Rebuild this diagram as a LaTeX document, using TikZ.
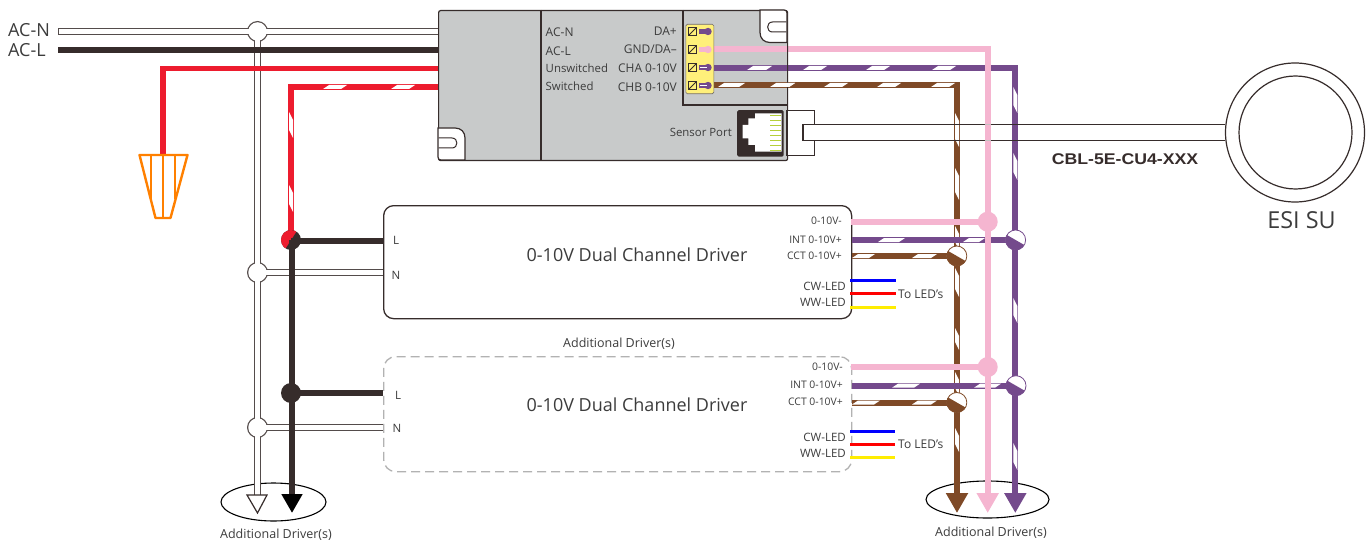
\documentclass[tikz,border=0pt]{standalone}
\usepackage{graphicx}
\usepackage{fontspec}
\setmainfont{Open Sans}
\newfontfamily\boldarial{Liberation Sans}[BoldFont={Liberation Sans Bold}]
\usetikzlibrary{arrows.meta,shapes.geometric}
\definecolor{blackw}{HTML}{362C2B}
\definecolor{redw}{HTML}{ED1C2E}
\definecolor{pinkw}{HTML}{F5B5D0}
\definecolor{purplew}{HTML}{744A8C}
\definecolor{brownw}{HTML}{7F4A27}
\definecolor{boxgrey}{HTML}{C8CACA}
\definecolor{termyellow}{HTML}{FFF07A}
\definecolor{txt}{HTML}{3C3C3C}
\definecolor{orangew}{HTML}{FF8000}
\definecolor{pinc}{HTML}{B5CF3B}
\newcommand\hst[3]{\fill[white] (#2,#1+2)--(#2+6,#1-2)--(#3,#1-2)--(#3-6,#1+2)--cycle;}
\newcommand\vst[3]{\fill[white] (#1-2,#2)--(#1+2,#2+8)--(#1+2,#3)--(#1-2,#3-8)--cycle;}
\newcommand\halfj[2]{\begin{scope}[shift={(#1.center)}]\clip (0,0) circle[radius=10pt];\fill[#2] (-20,-11.5)--(20,11.5)--(20,20)--(-20,20)--cycle;\end{scope}}
\tikzset{
 wire/.style={line width=6pt,line join=miter,line cap=butt},
 nout/.style={line width=6.6pt,draw=blackw!85},
 nin/.style={line width=4.4pt,draw=white},
 thinw/.style={line width=3pt},
 lbl/.style={inner sep=0pt,text=txt,font=\fontsize{12}{12}\selectfont},
 lbs/.style={inner sep=0pt,text=txt,font=\fontsize{11.4}{12}\selectfont},
 sm/.style={inner sep=0pt,text=txt,font=\fontsize{10.4}{10}\selectfont},
 ledl/.style={inner sep=0pt,text=txt,font=\fontsize{11.5}{10}\selectfont},
 term/.style={inner sep=0pt,text=txt,font=\fontsize{11.5}{10}\selectfont},
 addl/.style={inner sep=0pt,text=txt,font=\fontsize{12.5}{11}\selectfont},
 titl/.style={inner sep=0pt,text=txt,font=\fontsize{18}{17}\selectfont},
 acl/.style={inner sep=0pt,text=txt,anchor=west,font=\fontsize{18}{15}\selectfont},
 dotj/.style={circle,minimum size=20pt,inner sep=0pt,fill=#1},
 halfnode/.style={circle,minimum size=20pt,inner sep=0pt,fill=white,draw=#1,line width=.8pt},
 nj/.style={circle,minimum size=20pt,inner sep=0pt},
 drv/.style={rectangle,rounded corners=10pt,anchor=north west,inner sep=0pt,line width=1.3pt,draw=blackw},
 drvd/.style={rectangle,rounded corners=12pt,anchor=north west,inner sep=0pt,line width=1.3pt,draw=black!30,dash pattern=on 9pt off 5pt},
 screw/.style={rectangle,draw=blackw,line width=1pt,minimum size=8pt,inner sep=0pt,path picture={\draw[blackw,line width=1pt](path picture bounding box.south west)--(path picture bounding box.north east);}},
}
\begin{document}
\begin{tikzpicture}[x=1pt,y=-1pt]
\useasboundingbox (0,0) rectangle (1372,540);
\fill[white] (0,0) rectangle (1372,540);
% named points
\coordinate (nstart) at (58,31.5);
\coordinate (lstart) at (58,50);
\coordinate (nboxin) at (438,31.5);
\coordinate (lboxin) at (438,50);
\coordinate (uboxin) at (438,68.5);
\coordinate (sboxin) at (438,87);
\coordinate (ubend) at (163,68.5);
\coordinate (sbend) at (290.5,87);
\coordinate (cap) at (163,155);
\coordinate (ntip) at (257.5,496);
\coordinate (ltip) at (292,513);
\coordinate (nd1) at (383,272.5);
\coordinate (nd2) at (383,427.5);
\coordinate (ld1) at (383,241);
\coordinate (ld2) at (383,393);
\coordinate (pink0) at (713,49);
\coordinate (pinkc) at (987.7,49);
\coordinate (pinkt) at (987.7,513);
\coordinate (pur0) at (713,68);
\coordinate (purc) at (1015.3,68);
\coordinate (purt) at (1015.3,513);
\coordinate (bro0) at (713,85.5);
\coordinate (broc) at (957,85.5);
\coordinate (brot) at (957,513);
\coordinate (cabt) at (803,124.5);
\coordinate (cabb) at (803,140.5);
% ellipses
\node[draw=black,line width=1.1pt,ellipse,minimum width=105pt,minimum height=38pt,inner sep=0pt] (e1) at (273.5,502) {};
\node[draw=black,line width=1.1pt,ellipse,minimum width=123pt,minimum height=37pt,inner sep=0pt] (e2) at (987.5,499.5) {};
% sensor
\node[circle,draw=blackw,line width=1.2pt,fill=white,minimum size=139pt,inner sep=0pt] (su) at (1295,132.5) {};
\node[circle,draw=blackw,line width=1.2pt,minimum size=113pt,inner sep=0pt] (sui) at (1295.5,132.5) {};
% drivers
\node[drv,minimum width=468pt,minimum height=113pt] (d1) at (383,205) {};
\node[drvd,minimum width=468pt,minimum height=115pt] (d2) at (383,356) {};
% neutral network
\node[nj,fill=blackw!85,minimum size=21pt] (jn0) at (257.5,31.5) {};
\node[nj,fill=blackw!85,minimum size=21pt] (jn1) at (257.5,272.5) {};
\node[nj,fill=blackw!85,minimum size=21pt] (jn2) at (257.5,427.5) {};
\draw[nout] (nstart)--(nboxin);
\draw[nout] (jn0.center)--(ntip);
\draw[nout] (jn1.center)--(nd1);
\draw[nout] (jn2.center)--(nd2);
\node[nj,fill=white,minimum size=18.5pt] (jn0w) at (jn0) {};
\node[nj,fill=white,minimum size=18.5pt] (jn1w) at (jn1) {};
\node[nj,fill=white,minimum size=18.5pt] (jn2w) at (jn2) {};
\draw[nin] ([xshift=.8pt]nstart)--(nboxin);
\draw[nin] (jn0.center)--(ntip);
\draw[nin] (jn1.center)--(nd1);
\draw[nin] (jn2.center)--(nd2);
\draw[blackw,line width=1.2pt,fill=white] (247,495)--(267,495)--(257.5,513)--cycle;
% line
\draw[wire,blackw] (lstart)--(lboxin);
% switched / unswitched
\draw[wire,redw,line width=5.6pt] (uboxin)--(ubend)--(cap);
\draw[wire,redw] (sboxin)--(sbend)--(290.5,239);
\hst{87}{323}{347}\hst{87}{391}{415}
\vst{291}{112}{138}\vst{291}{185}{212}
\node[dotj=blackw] (jl1) at (291,240) {};
\begin{scope}\clip (jl1.center) circle[radius=10pt];
\fill[redw] (271,271)--(311,209)--(271,209)--cycle;\end{scope}
\node[dotj=blackw] (jl2) at (291,393) {};
\draw[wire,blackw] (jl1.center |- ld1)--(ld1);
\draw[wire,blackw] (jl2.center)--(ld2);
\draw[wire,blackw,line width=6.4pt,-{Triangle[width=20pt,length=19pt,color=black]}] (ltip |- jl1.center)--(ltip);
% wire nut
\draw[orangew,line width=2.4pt,line join=round] (139.5,155)--(187.5,155)--(170.5,218)--(155.5,218)--cycle;
\draw[orangew,line width=2.4pt] (151,155)--(151,199);
\draw[orangew,line width=2.4pt] (163,155)--(163,218);
\draw[orangew,line width=2.4pt] (175,155)--(175,199);
% brown / purple runs
\draw[wire,brownw,-{Triangle[width=21pt,length=20pt,color=brownw]}] (bro0)--(broc)--(brot);
\draw[wire,purplew,-{Triangle[width=21pt,length=20pt,color=purplew]}] (pur0)--(purc)--(purt);
\foreach \a/\b in {718/745,770/795,824/848,877/901,931/955} {\hst{85}{\a}{\b}}
\foreach \a/\b in {747/772,803/827,866/890,932/956} {\hst{68}{\a}{\b}}
\foreach \a/\b in {113/147,168/200,226/250,268/297,328/350,372/396,428/452} {\vst{957}{\a}{\b}}
\foreach \a/\b in {87/113,153/180,298/323,443/470} {\vst{1015.3}{\a}{\b}}
% cable: its lines show across the brown and purple runs
\draw[blackw,line width=1.2pt] (cabt)--(su.west |- cabt);
\draw[blackw,line width=1.2pt] (cabb)--(su.west |- cabb);
% driver outputs
\coordinate (jb1) at (956.8,256);
\coordinate (jb2) at (956.8,402.5);
\coordinate (jp1) at (1015.6,240);
\coordinate (jp2) at (1016,385.7);
\draw[wire,purplew] (d1.east |- jp1)--(jp1);
\draw[wire,purplew] (d2.east |- jp2)--(jp2);
\foreach \a/\b in {878/905,963/985} {\hst{240}{\a}{\b}}
\foreach \a/\b in {892/920,974/1001} {\hst{385.7}{\a}{\b}}
\draw[wire,brownw] (d1.east |- jb1)--(jb1);
\draw[wire,brownw] (d2.east |- jb2)--(jb2);
\foreach \a/\b in {852/875,912/937} {\hst{256}{\a}{\b}}
\foreach \a/\b in {852/880,912/937} {\hst{402.5}{\a}{\b}}
\node[halfnode=brownw] (nb1) at (jb1) {};
\node[halfnode=brownw] (nb2) at (jb2) {};
\node[halfnode=purplew] (np1) at (jp1) {};
\node[halfnode=purplew] (np2) at (jp2) {};
\halfj{nb1}{brownw}\halfj{nb2}{brownw}\halfj{np1}{purplew}\halfj{np2}{purplew}
% pink on top
\draw[wire,pinkw,line width=6.4pt,-{Triangle[width=21pt,length=20pt,color=pinkw]}] (pink0)--(pinkc)--(pinkt);
\draw[blackw!30,line width=1.2pt] (984.5,124.5)--(991,124.5);
\draw[blackw!30,line width=1.2pt] (984.5,140.5)--(991,140.5);
\coordinate (gy1) at (851,221.7);
\coordinate (gy2) at (851,367);
\node[dotj=pinkw] (jg1) at (987.7,221.7) {};
\node[dotj=pinkw] (jg2) at (987.7,367) {};
\draw[wire,pinkw] (gy1)--(jg1.center);
\draw[wire,pinkw] (gy2)--(jg2.center);
% LED leads
\draw[thinw,blue] (850,280.5)--(896,280.5);
\draw[thinw,red] (850,293.5)--(896,293.5);
\draw[thinw,yellow!95!orange] (850,307)--(896,307);
\draw[thinw,blue] (850,431)--(895,431);
\draw[thinw,red] (850,444)--(895,444);
\draw[thinw,yellow!95!orange] (850,457.5)--(895,457.5);
% gateway box
\node[rectangle,rounded corners=2pt,draw=blackw,line width=1.2pt,fill=boxgrey,anchor=north west,minimum width=349pt,minimum height=150pt,inner sep=0pt] (gw) at (438,10) {};
\draw[blackw,line width=1.2pt] (541,10)--(541,160);
\draw[blackw,line width=1.2pt] (683,10)--(683,105)--(787,105);
\draw[blackw,line width=1.2pt,fill=white] (760,10)--(760,32.5) .. controls (760,38.5) and (764,42.5) .. (770,42.5)--(787,42.5)--(787,13) .. controls (787,11) and (786,10) .. (784,10)--cycle;
\draw[blackw,line width=1.2pt,fill=white] (465,160)--(465,138) .. controls (465,132) and (461,128) .. (455,128)--(438,128)--(438,157) .. controls (438,159) and (439,160) .. (441,160)--cycle;
\draw[blackw,line width=1pt] (786.4,22)--(772.5,22) .. controls (766,22) and (766,32) .. (772.5,32)--(786.4,32);
\draw[blackw,line width=1pt] (438.6,138)--(452,138) .. controls (458.5,138) and (458.5,148) .. (452,148)--(438.6,148);
% wires inside terminal
\draw[wire,pinkw] (713,49)--(787,49);
\draw[wire,purplew] (713,68)--(787,68);
\draw[wire,brownw] (713,85.5)--(787,85.5);
\foreach \a/\b in {718/745,770/795} {\hst{85}{\a}{\b}}
\foreach \a/\b in {747/772} {\hst{68}{\a}{\b}}
% terminal
\node[rectangle,rounded corners=1.5pt,fill=termyellow,draw=blackw!70,line width=.6pt,anchor=north west,minimum width=28pt,minimum height=69.5pt,inner sep=0pt] (tblock) at (685.5,24) {};
\node[screw] (s1) at (692.5,31.5) {};
\node[screw] (s2) at (692.5,49.5) {};
\node[screw] (s3) at (692.5,67.5) {};
\node[screw] (s4) at (692.5,85.5) {};
\draw[purplew,line width=4.5pt] (699,31.5)--(708,31.5);
\fill[purplew] (708,31.5) circle[radius=3.7pt];
\draw[pinkw,line width=4.5pt] (699,49.5)--(708,49.5);
\fill[pinkw] (708,49.5) circle[radius=3.7pt];
\draw[purplew,line width=4.5pt] (699,67.5)--(708,67.5);
\fill[purplew] (708,67.5) circle[radius=3.7pt];
\draw[white,line width=1.2pt] (700,67.7)--(707,67.7);
\draw[purplew,line width=4.5pt] (699,85.5)--(708,85.5);
\fill[purplew] (708,85.5) circle[radius=3.7pt];
\draw[white,line width=1.2pt] (700,85.7)--(707,85.7);
% sensor port
\draw[blackw,line width=1.2pt,fill=white] (787,110.5) rectangle (814.5,155.5);
\draw[white,line width=1.6pt] (814.5,125.4)--(814.5,139.6);
\draw[blackw,line width=1.2pt] ([xshift=12pt]cabt)--(cabt)--(cabb)--([xshift=12pt]cabb);
\node[rectangle,rounded corners=1.5pt,fill=blackw,anchor=north west,minimum width=46.5pt,minimum height=46.5pt,inner sep=0pt] (jack) at (737,110) {};
\fill[white] (781.7,113.3)--(755,113.3)--(755,118.3)--(748.3,118.3)--(748.3,125)--(742.7,125)--(742.7,138.3)--(748.3,138.3)--(748.3,145)--(755,145)--(755,151.7)--(781.7,151.7)--cycle;
\foreach \y in {115,120,125,130,135,140,145,150} {\draw[pinc,line width=.7pt] (770,\y)--(781,\y);}
% texts
\node[acl] (tn) at (8,30.5) {AC-N};
\node[acl] (tl) at (8,50) {AC-L};
\node[lbl,anchor=west] (a1) at (545.5,32) {AC-N};
\node[lbl,anchor=west] (a2) at (545.5,51) {AC-L};
\node[lbs,anchor=west] (a3) at (545.5,68) {Unswitched};
\node[lbs,anchor=west] (a4) at (545.5,86.5) {Switched};
\node[lbl,anchor=east] (b1) at (677,31) {DA+};
\node[lbl,anchor=east] (b2) at (677,49) {GND/DA–};
\node[lbl,anchor=east] (b3) at (677,68) {CHA 0-10V};
\node[lbl,anchor=east] (b4) at (677,87) {CHB 0-10V};
\node[lbs,anchor=east] (sp) at (732,132) {Sensor Port};
\node[inner sep=0pt,text=blackw,font=\boldarial\bfseries\fontsize{15.5}{15}\selectfont] (cbl) at (1125,159.5) {\scalebox{1.14}[1]{CBL-5E-CU4-XXX}};
\node[inner sep=0pt,text=txt,font=\fontsize{23.4}{21}\selectfont] (esi) at (1301.5,220) {ESI SU};
\node[titl] (t1) at (637,255) {0-10V Dual Channel Driver};
\node[titl] (t2) at (637,404.5) {0-10V Dual Channel Driver};
\node[addl] (ad) at (619,344) {Additional Driver(s)};
\node[addl] (ad1) at (276,534.5) {Additional Driver(s)};
\node[addl] (ad2) at (991,533) {Additional Driver(s)};
\node[term] (l1) at (396,240) {L};
\node[term] (n1) at (396,275) {N};
\node[term] (l2) at (398,395) {L};
\node[term] (n2) at (397,428) {N};
\node[sm,anchor=east] (c1) at (842,221) {0-10V-};
\node[sm,anchor=east] (c2) at (842,240) {INT 0-10V+};
\node[sm,anchor=east] (c3) at (842,256) {CCT 0-10V+};
\node[ledl,anchor=east] (c4) at (846,286) {CW-LED};
\node[ledl,anchor=east] (c5) at (846,302) {WW-LED};
\node[sm,anchor=east] (e1t) at (843,366.5) {0-10V-};
\node[sm,anchor=east] (e2t) at (843,385) {INT 0-10V+};
\node[sm,anchor=east] (e3t) at (843,401.5) {CCT 0-10V+};
\node[ledl,anchor=east] (e4t) at (846,437) {CW-LED};
\node[ledl,anchor=east] (e5t) at (846,453) {WW-LED};
\node[lbl,anchor=west] (led1) at (898,294) {To LED's};
\node[lbl,anchor=west] (led2) at (898,444.5) {To LED's};
\end{tikzpicture}
\end{document}
